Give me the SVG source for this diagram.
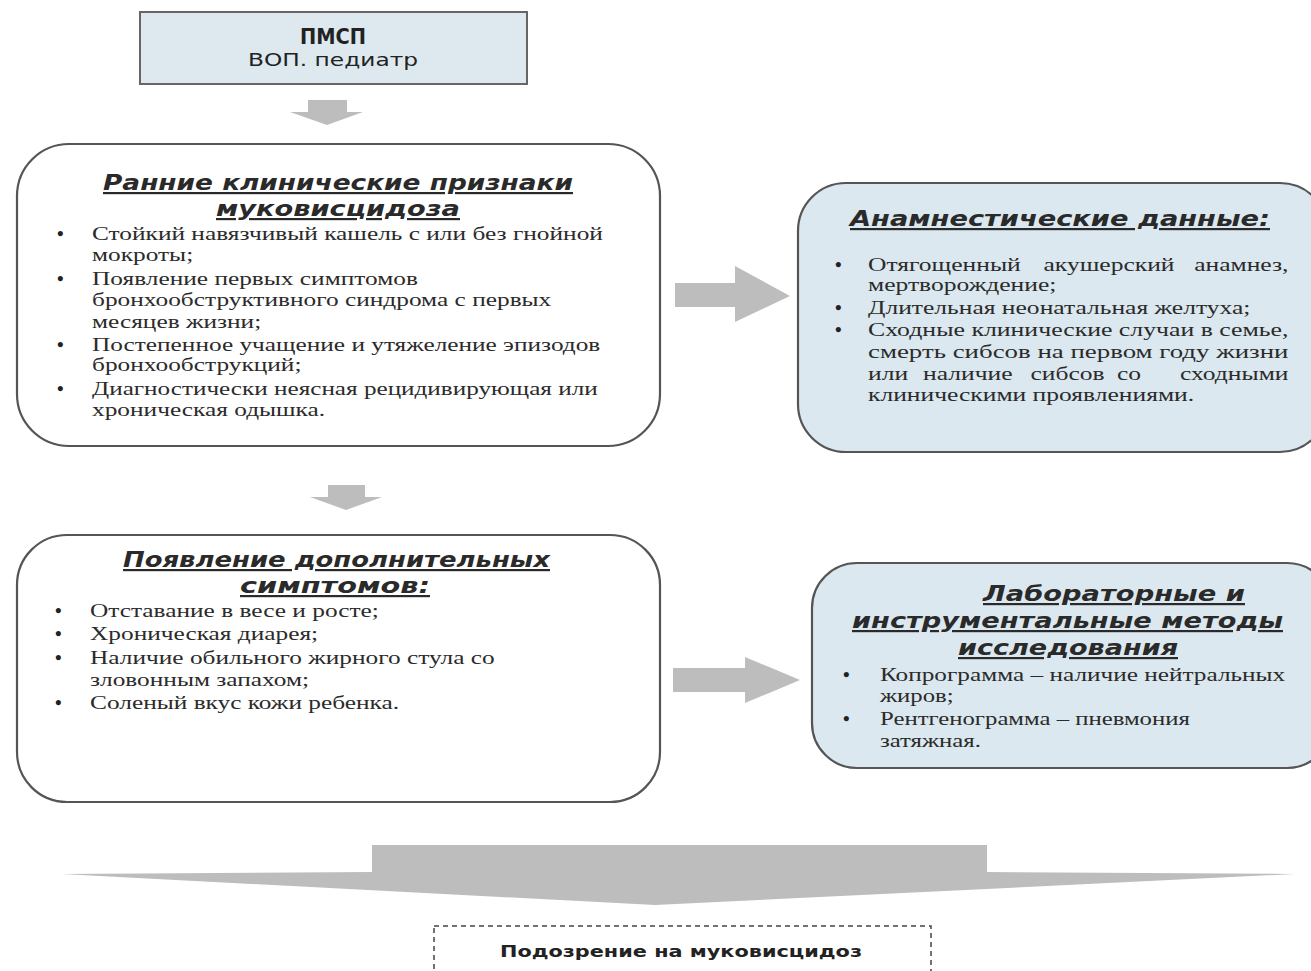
<svg xmlns="http://www.w3.org/2000/svg" width="1311" height="971" viewBox="0 0 1311 971">
<style>
.box{stroke:#555;stroke-width:2.2;}
.white{fill:#ffffff;}
.blue{fill:#dbe8ef;}
.arrow{fill:#bdbdbd;}
.hd{font-family:"DejaVu Sans",sans-serif;font-weight:bold;font-style:italic;font-size:22px;fill:#2a2a2a;text-decoration:underline;}
.bd{font-family:"Liberation Serif",serif;font-size:19.5px;fill:#2b2b2b;}
.bul{font-family:"Liberation Serif",serif;font-size:19px;font-weight:bold;fill:#222;}
.sans{font-family:"DejaVu Sans",sans-serif;fill:#222;}
</style>
<rect width="1311" height="971" fill="#ffffff"/>
<g id="connectors">
<polygon class="arrow" points="308,100 347,100 347,112 363,112 327,125 290,112 308,112"/>
<polygon class="arrow" points="675,283 735,283 735,266 790,296 735,322 735,307 675,307"/>
<polygon class="arrow" points="328,485 365,485 365,497 382,497 346,510 310,497 328,497"/>
<polygon class="arrow" points="673,668 745,668 745,657 800,680 745,703 745,692 673,692"/>
<polygon class="arrow" points="372,845 987,845 987,872 1295,874 655,905 62,874 372,872"/>
</g>
<g id="node-pmsp">
<rect x="140" y="12" width="387" height="72" fill="#dde9ef" stroke="#666" stroke-width="2"/>
<text class="sans" x="333" y="44" text-anchor="middle" font-size="21" font-weight="bold" textLength="66" lengthAdjust="spacingAndGlyphs">ПМСП</text>
<text class="sans" x="333" y="66" text-anchor="middle" font-size="17" fill="#444" textLength="170" lengthAdjust="spacingAndGlyphs">ВОП. педиатр</text>
</g>
<g id="node-early">
<rect class="box white" x="17" y="144" width="643" height="302" rx="52" ry="52"/>
<text class="hd" x="103" y="190" textLength="470" lengthAdjust="spacingAndGlyphs">Ранние клинические признаки</text>
<text class="hd" x="216" y="216" textLength="244" lengthAdjust="spacingAndGlyphs">муковисцидоза</text>
<text class="bul" x="57" y="240">•</text>
<text class="bul" x="57" y="285">•</text>
<text class="bul" x="57" y="351">•</text>
<text class="bul" x="57" y="395">•</text>
<g class="bd" transform="matrix(1.3 0 0 1 92 0)">
<text x="0" y="240" textLength="393" lengthAdjust="spacingAndGlyphs">Стойкий навязчивый кашель с или без гнойной</text>
<text x="0" y="261">мокроты;</text>
<text x="0" y="285">Появление первых симптомов</text>
<text x="0" y="306">бронхообструктивного синдрома с первых</text>
<text x="0" y="328">месяцев жизни;</text>
<text x="0" y="351" textLength="391" lengthAdjust="spacingAndGlyphs">Постепенное учащение и утяжеление эпизодов</text>
<text x="0" y="371">бронхообструкций;</text>
<text x="0" y="395" textLength="389" lengthAdjust="spacingAndGlyphs">Диагностически неясная рецидивирующая или</text>
<text x="0" y="416">хроническая одышка.</text>
</g>
</g>
<g id="node-anamnesis">
<rect class="box blue" x="798" y="183" width="530" height="269" rx="48" ry="48"/>
<text class="hd" x="850" y="226" textLength="420" lengthAdjust="spacingAndGlyphs">Анамнестические данные:</text>
<text class="bul" x="835" y="271">•</text>
<text class="bul" x="835" y="314">•</text>
<text class="bul" x="835" y="336">•</text>
<g class="bd" transform="matrix(1.31 0 0 1 868 0)">
<text x="0" y="271">Отягощенный</text>
<text x="134" y="271">акушерский</text>
<text x="321" y="271" text-anchor="end">анамнез,</text>
<text x="0" y="291">мертворождение;</text>
<text x="0" y="314">Длительная неонатальная желтуха;</text>
<text x="0" y="336" textLength="321" lengthAdjust="spacingAndGlyphs">Сходные клинические случаи в семье,</text>
<text x="0" y="358" textLength="321" lengthAdjust="spacingAndGlyphs">смерть сибсов на первом году жизни</text>
<text x="0" y="380">или</text>
<text x="42" y="380">наличие</text>
<text x="124" y="380">сибсов</text>
<text x="190" y="380">со</text>
<text x="321" y="380" text-anchor="end">сходными</text>
<text x="0" y="401">клиническими проявлениями.</text>
</g>
</g>
<g id="node-additional">
<rect class="box white" x="17" y="535" width="643" height="267" rx="50" ry="50"/>
<text class="hd" x="123" y="567" textLength="427" lengthAdjust="spacingAndGlyphs">Появление дополнительных</text>
<text class="hd" x="240" y="593" textLength="190" lengthAdjust="spacingAndGlyphs">симптомов:</text>
<text class="bul" x="55" y="617">•</text>
<text class="bul" x="55" y="640">•</text>
<text class="bul" x="55" y="664">•</text>
<text class="bul" x="55" y="709">•</text>
<g class="bd" transform="matrix(1.3 0 0 1 90 0)">
<text x="0" y="617">Отставание в весе и росте;</text>
<text x="0" y="640">Хроническая диарея;</text>
<text x="0" y="664">Наличие обильного жирного стула со</text>
<text x="0" y="686">зловонным запахом;</text>
<text x="0" y="709">Соленый вкус кожи ребенка.</text>
</g>
</g>
<g id="node-lab">
<rect class="box blue" x="812" y="563" width="520" height="205" rx="45" ry="45"/>
<text class="hd" x="983" y="601" textLength="262" lengthAdjust="spacingAndGlyphs">Лабораторные и</text>
<text class="hd" x="852" y="628" textLength="431" lengthAdjust="spacingAndGlyphs">инструментальные методы</text>
<text class="hd" x="958" y="655" textLength="220" lengthAdjust="spacingAndGlyphs">исследования</text>
<text class="bul" x="843" y="681">•</text>
<text class="bul" x="843" y="725">•</text>
<g class="bd" transform="matrix(1.27 0 0 1 880 0)">
<text x="0" y="681" textLength="319" lengthAdjust="spacingAndGlyphs">Копрограмма – наличие нейтральных</text>
<text x="0" y="702">жиров;</text>
<text x="0" y="725">Рентгенограмма – пневмония</text>
<text x="0" y="747">затяжная.</text>
</g>
</g>
<g id="node-suspicion">
<rect x="434" y="926" width="497" height="60" fill="#ffffff" stroke="#444" stroke-width="1.5" stroke-dasharray="5,4"/>
<text class="sans" x="500" y="957" font-size="16" font-weight="bold" textLength="362" lengthAdjust="spacingAndGlyphs">Подозрение на муковисцидоз</text>
</g>
</svg>
